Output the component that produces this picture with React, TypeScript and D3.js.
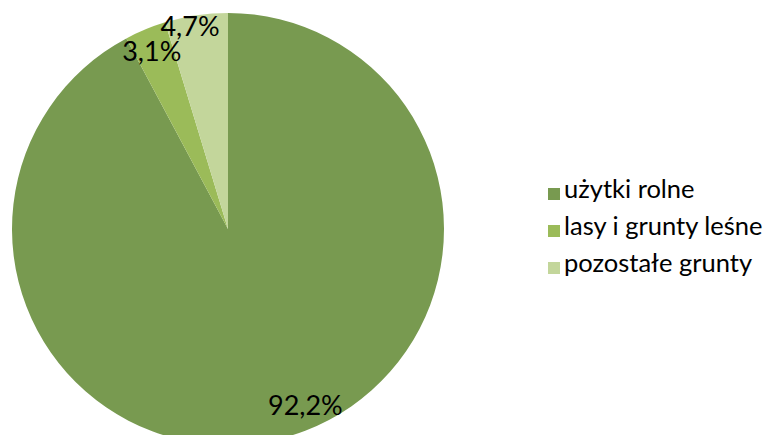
import React, { useRef, useEffect } from 'react';
import * as d3 from 'd3';

const categories = ['użytki rolne', 'lasy i grunty leśne', 'pozostałe grunty'];
const values = [92.2, 3.1, 4.7];
const labels = ['92,2%', '3,1%', '4,7%'];
const colors = ['#789a50', '#9bbb59', '#c3d69b'];

// label placement: [radius factor, angle shift in degrees]
const labelPos: [number, number][] = [[0.89, -9.7], [0.9, -0.6], [0.96, -2.1]];

function App() {
  const svgRef = useRef<SVGSVGElement>(null);

  useEffect(() => {
    const w = 777;
    const h = 443;
    const cx = 228;
    const cy = 229;
    const r = 216;

    const svg = d3.select(svgRef.current)
      .attr('width', w)
      .attr('height', h)
      .style('display', 'block')
      .style('background', '#ffffff');

    svg.selectAll('*').remove();

    const pie = d3.pie<number>().sort(null).value(d => d);
    const arcs = pie(values);
    const arc = d3.arc<d3.PieArcDatum<number>>().innerRadius(0).outerRadius(r);

    const g = svg.append('g').attr('transform', `translate(${cx},${cy})`);

    g.selectAll('path')
      .data(arcs)
      .join('path')
      .attr('d', arc)
      .attr('fill', (d, i) => colors[i]);

    // data labels
    const pos = (d: d3.PieArcDatum<number>, i: number) => {
      const a = (d.startAngle + d.endAngle) / 2 + labelPos[i][1] * Math.PI / 180;
      return [Math.sin(a) * r * labelPos[i][0], -Math.cos(a) * r * labelPos[i][0]];
    };

    g.selectAll('text')
      .data(arcs)
      .join('text')
      .attr('x', (d, i) => pos(d, i)[0])
      .attr('y', (d, i) => pos(d, i)[1])
      .attr('text-anchor', 'middle')
      .attr('dominant-baseline', 'central')
      .style('font-family', 'Lato, sans-serif')
      .style('font-size', '27px')
      .style('fill', '#000')
      .text((d, i) => labels[i]);

    // legend
    const legendY = d3.scalePoint<string>()
      .domain(categories)
      .range([198, 272]);

    const items = svg.append('g').selectAll('g')
      .data(categories)
      .join('g')
      .attr('transform', d => `translate(548,${legendY(d)})`);

    items.append('rect')
      .attr('x', 0)
      .attr('y', -10)
      .attr('width', 12)
      .attr('height', 12)
      .attr('fill', (d, i) => colors[i]);

    items.append('text')
      .attr('x', 16)
      .attr('y', 0)
      .style('font-family', 'Lato, sans-serif')
      .style('font-size', '25.5px')
      .style('fill', '#000')
      .text(d => d);
  }, []);

  return (
    <div style={{ margin: -8 }}>
      <svg ref={svgRef}></svg>
    </div>
  );
}

export default App;
